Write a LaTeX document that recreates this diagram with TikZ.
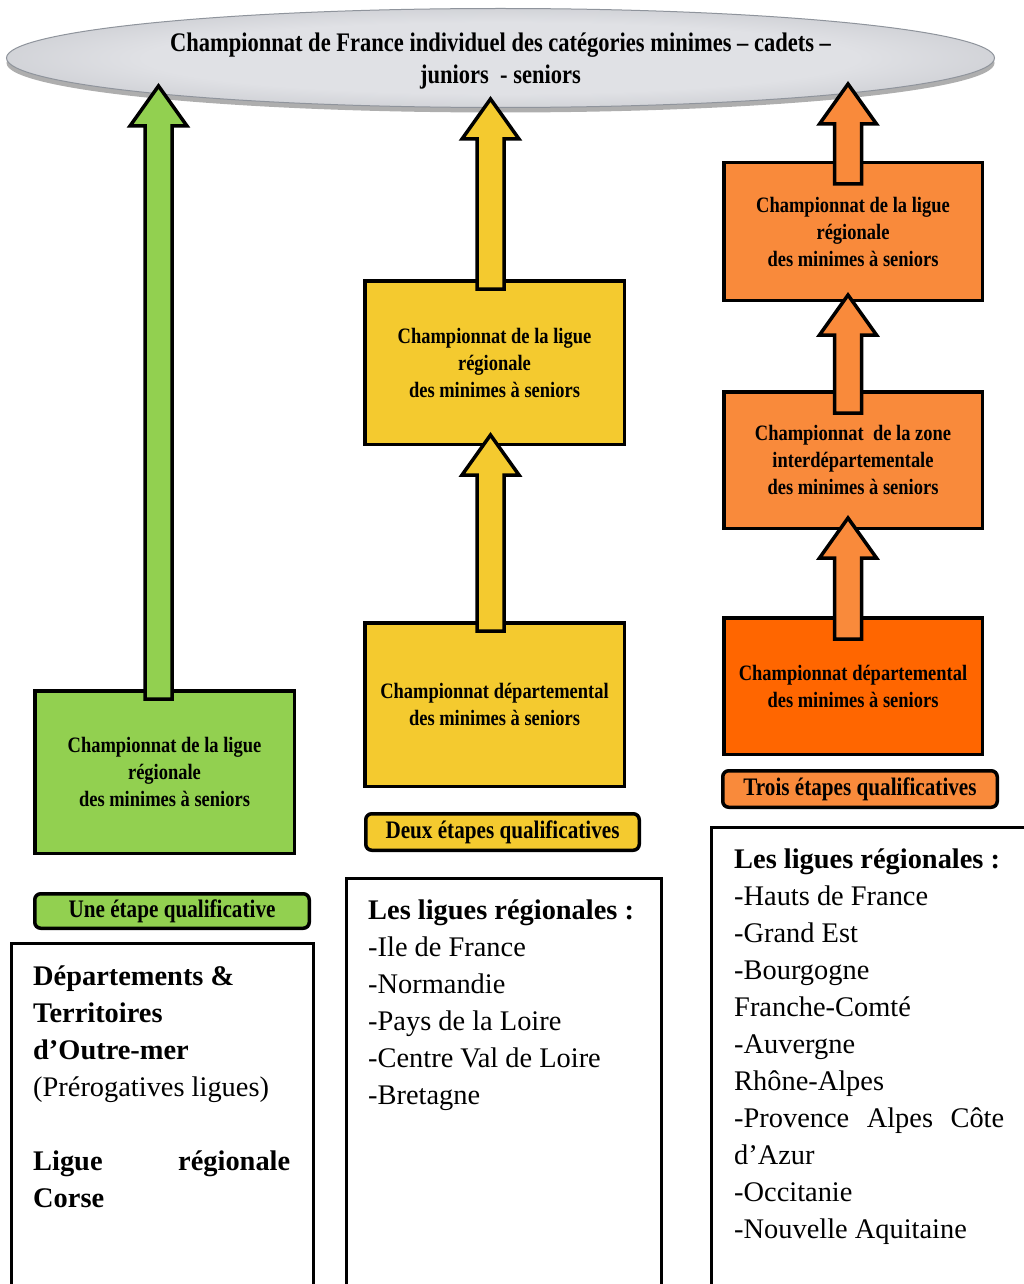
\documentclass[tikz,border=0pt]{standalone}
\usepackage{fontspec}
\setmainfont{Liberation Serif}
\newfontfamily\condfont[FakeStretch=0.84]{Liberation Serif}
\usepackage{tikz}
\usetikzlibrary{calc,shapes.geometric,shadows}
\definecolor{vert}{HTML}{92D050}
\definecolor{jaune}{HTML}{F4CA2F}
\definecolor{orangeclair}{HTML}{F98A3B}
\definecolor{orangefonce}{HTML}{FF6600}
\definecolor{ellin}{HTML}{E0E1E5}
\definecolor{ellout}{HTML}{A0A3AA}
\definecolor{ellline}{HTML}{8F949C}
\pgfdeclareradialshading{ellshade}{\pgfpoint{0bp}{0bp}}{color(0bp)=(ellin); color(18bp)=(ellin); color(50bp)=(ellout)}
\tikzset{
  titre/.style={ellipse, draw=ellline, line width=1pt, shading=ellshade, minimum width=988pt, minimum height=99pt, inner sep=0pt,
    drop shadow={shadow xshift=0pt, shadow yshift=-5pt, opacity=0.45, fill=black!70}},
  titretext/.style={inner sep=0pt, align=center, font=\condfont\bfseries\fontsize{26.8}{32}\selectfont},
  etape/.style={draw=black, line width=3.5pt, align=center, inner sep=0pt, font=\condfont\bfseries\fontsize{22}{27}\selectfont},
  qualif/.style={draw=black, line width=3.5pt, rounded corners=6pt, align=center, inner sep=0pt, font=\condfont\bfseries\fontsize{25.2}{30}\selectfont},
  listbox/.style={draw=black, line width=3pt},
  listtext/.style={anchor=north west, inner sep=0pt, align=left, font=\fontsize{28.4}{37}\selectfont},
  arrowbody/.style={draw=black, line width=3.5pt, line join=miter}
}
\newcommand{\blockarrow}[3]{%
  \draw[arrowbody, fill=#1] let \p1=#2, \p2=#3 in
    (\x2-13.5pt,\y1) -- (\x2-13.5pt,\y2-40pt) -- (\x2-28.5pt,\y2-40pt) -- (\x2,\y2)
    -- (\x2+28.5pt,\y2-40pt) -- (\x2+13.5pt,\y2-40pt) -- (\x2+13.5pt,\y1) -- cycle;}

\begin{document}
\begin{tikzpicture}[x=1pt, y=-1pt]
  \useasboundingbox (0,0) rectangle (1024,1284);
  \fill[white] (0,0) rectangle (1024,1284);
  \clip (0,0) rectangle (1024,1284);

  \node[titre] (titre) at (500.5,58) {};
  \node[titretext] (titretext) at ($(titre.center)+(0,3)$) {Championnat de France individuel des catégories minimes – cadets –\\ juniors~ - seniors};

  % une etape
  \node[etape, fill=vert, minimum width=259.5pt, minimum height=162.5pt] (regvert) at (164.5,772) {Championnat de la ligue\\ régionale\\ des minimes à seniors};
  \node[qualif, fill=vert, minimum width=274.5pt, minimum height=34.5pt] (unevert) at (172,911) {Une étape qualificative};

  % deux etapes
  \node[etape, fill=jaune, minimum width=259.5pt, minimum height=163.5pt] (regjaune) at (494.5,362.5) {Championnat de la ligue\\ régionale\\ des minimes à seniors};
  \node[etape, fill=jaune, minimum width=259.5pt, minimum height=163.5pt] (depjaune) at (494.5,704.5) {Championnat départemental\\ des minimes à seniors};
  \node[qualif, fill=jaune, minimum width=273.5pt, minimum height=36.5pt] (deuxjaune) at (502.5,832) {Deux étapes qualificatives};

  % trois etapes
  \node[etape, fill=orangeclair, minimum width=258.5pt, minimum height=137.5pt] (regorange) at (853,231.5) {Championnat de la ligue\\ régionale\\ des minimes à seniors};
  \node[etape, fill=orangeclair, minimum width=258.5pt, minimum height=136.5pt] (zoneorange) at (853,460) {Championnat~ de la zone\\ interdépartementale\\ des minimes à seniors};
  \node[etape, fill=orangefonce, minimum width=258.5pt, minimum height=136.5pt] (deporange) at (853,686) {Championnat départemental\\ des minimes à seniors};
  \node[qualif, fill=orangeclair, minimum width=274.5pt, minimum height=36.5pt] (troisorange) at (860,789) {Trois étapes qualificatives};

  \coordinate (vtip) at (158.5,86);
  \coordinate (jtip) at (490.5,99);
  \coordinate (otip) at (848,84);

  \blockarrow{vert}{($(regvert.north)+(0,10)$)}{(vtip)}
  \blockarrow{jaune}{($(regjaune.north)+(0,10)$)}{(jtip)}
  \blockarrow{jaune}{($(depjaune.north)+(0,10)$)}{($(regjaune.south)+(-4,-11)$)}
  \blockarrow{orangeclair}{($(regorange.north)+(0,23)$)}{(otip)}
  \blockarrow{orangeclair}{($(zoneorange.north)+(0,23)$)}{($(regorange.south)+(-5,-7)$)}
  \blockarrow{orangeclair}{($(deporange.north)+(0,23)$)}{($(zoneorange.south)+(-5,-12)$)}

  \draw[listbox] (11,943) rectangle (313,1300);
  \draw[listbox] (346,878) rectangle (661,1300);
  \draw[listbox] (711,827) rectangle (1040,1300);

  \node[listtext] (domcorse) at (33,959) {\strut\textbf{Départements \&}\\ \textbf{Territoires}\\ \textbf{d’Outre-mer}\\ (Prérogatives ligues)\\[37pt] \hbox to 257pt{\textbf{Ligue}\hfill\textbf{régionale}}\\ \textbf{Corse}};
  \node[listtext] (liguesjaune) at (368,893.1) {\strut\textbf{Les ligues régionales :}\\ -Ile de France\\ -Normandie\\ -Pays de la Loire\\ -Centre Val de Loire\\ -Bretagne};
  \node[listtext] (liguesorange) at (734,842.5) {\strut\textbf{Les ligues régionales :}\\ -Hauts de France\\ -Grand Est\\ -Bourgogne\\ Franche-Comté\\ -Auvergne\\ Rhône-Alpes\\ \hbox to 270pt{-Provence\hfill Alpes\hfill Côte}\\ d’Azur\\ -Occitanie\\ -Nouvelle Aquitaine};
\end{tikzpicture}
\end{document}
